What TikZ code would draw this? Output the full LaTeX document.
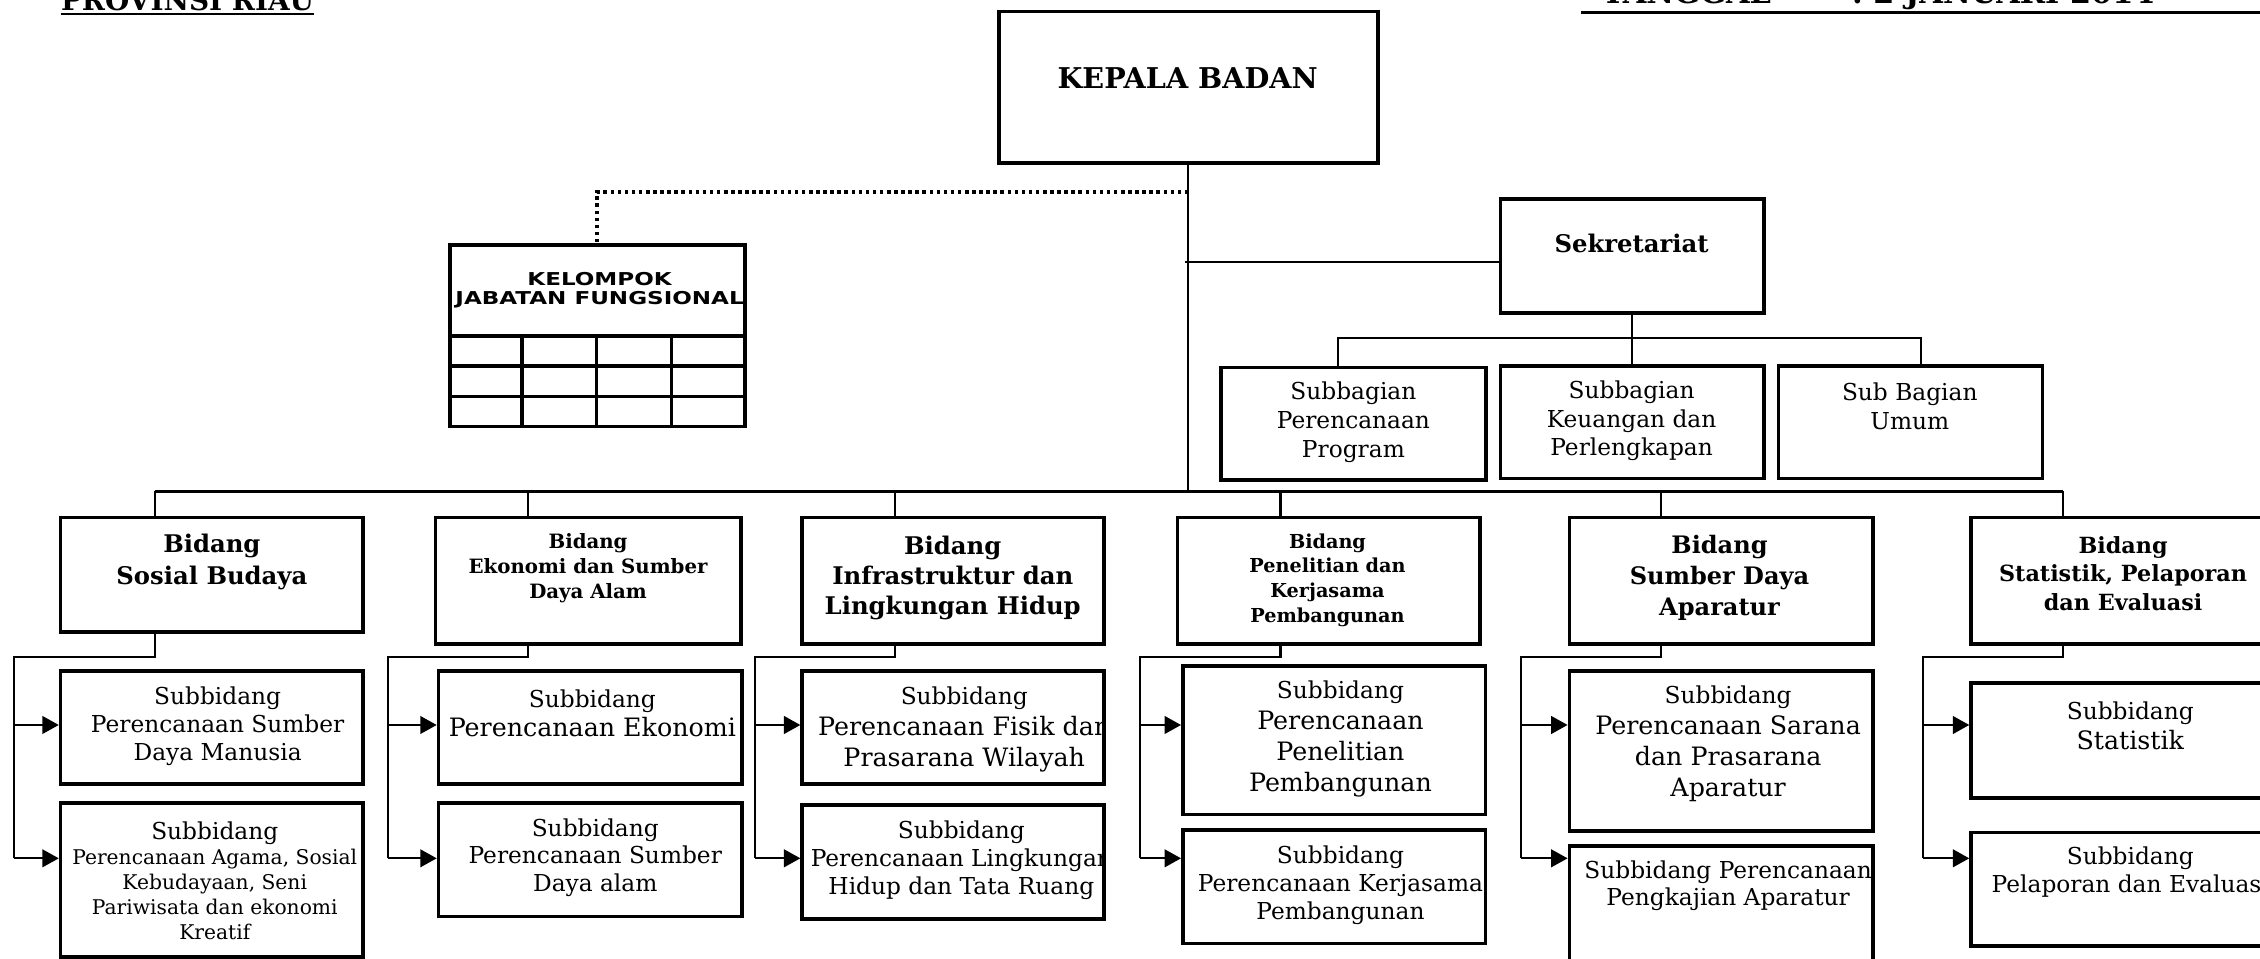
\documentclass[tikz,border=0pt]{standalone}
\usepackage{fontspec}
\setmainfont{DejaVu Serif}
\newfontfamily\jffont{DejaVu Sans}[FakeStretch=1.3]
\usetikzlibrary{arrows.meta}

\tikzset{
	box/.style = {draw, line width=1.4pt, inner sep=0pt},
	line/.style = {line width=0.8pt},
	dots/.style = {line width=1.6pt, dash pattern=on 1.4pt off 1.4pt},
	arr/.style = {line width=0.8pt, -{Triangle[length=6.5pt, width=7pt]}},
	txt/.style = {align=center, inner sep=0pt},
	subtxt/.style = {txt, font=\fontsize{9.2}{11}\selectfont},
	bigtxt/.style = {txt, font=\fontsize{10}{12.2}\selectfont},
	bidtxt/.style 2 args = {txt, font=\bfseries\fontsize{#1}{#2}\selectfont}
}

\begin{document}
\begin{tikzpicture}[x=0.02cm, y=-0.02cm]
	\useasboundingbox (0,0) rectangle (1568,665);
	\clip (0,0) rectangle (1568,665);

	% kop
	\node[anchor=base west, inner sep=0pt, font=\bfseries\fontsize{11}{13}\selectfont] (prov) at (42,7.4) {PROVINSI RIAU};
	\draw[line width=0.9pt] ([yshift=-1.3pt]prov.base west) -- ([yshift=-1.3pt]prov.base east);
	\node[anchor=base west, inner sep=0pt, font=\bfseries\fontsize{12}{14}\selectfont] (tgl) at (1111,2.3) {TANGGAL\hspace{32pt}:\hspace{4pt}2 JANUARI 2014};
	\draw[line width=1.2pt] ([xshift=-8pt, yshift=-3.6pt]tgl.base west) -- ++(500,0);

	% pimpinan dan sekretariat
	\node[box, minimum width=5.26cm, minimum height=2.1cm] (kepala) at (824.5,60.5) {};
	\node[txt, font=\bfseries\fontsize{11.3}{13}\selectfont] (kepalat) at (824,54) {KEPALA BADAN};

	\node[box, minimum width=4.1cm, minimum height=2.52cm] (jf) at (414.5,233) {};
	\node[txt, font=\jffont\bfseries\fontsize{7}{7.4}\selectfont] (jft) at (416,201.5) {KELOMPOK\\JABATAN FUNGSIONAL};
	\foreach \y in {233,254,275}
		\draw[line width=1.4pt] (jf.west |- 0,\y) -- (jf.east |- 0,\y);
	\foreach \x in {362,414,466}
		\draw[line width=1.4pt] (\x,233) -- (jf.south -| \x,0);

	\node[box, minimum width=3.66cm, minimum height=1.58cm] (sekr) at (1132.5,177.5) {};
	\node[txt, font=\bfseries\fontsize{9.6}{12}\selectfont] (sekrt) at (1132,169) {Sekretariat};

	\node[box, minimum width=3.68cm, minimum height=1.56cm] (sbg1) at (939,294) {};
	\node[box, minimum width=3.66cm, minimum height=1.56cm] (sbg2) at (1132.5,293) {};
	\node[box, minimum width=3.66cm, minimum height=1.56cm] (sbg3) at (1325.5,293) {};
	\node[subtxt, font=\fontsize{9.2}{11.4}\selectfont] (sbg1t) at (939,293) {Subbagian\\Perencanaan\\Program};
	\node[subtxt, font=\fontsize{9.2}{11.4}\selectfont] (sbg2t) at (1132,292) {Subbagian\\Keuangan dan\\Perlengkapan};
	\node[subtxt, font=\fontsize{9.2}{11.4}\selectfont] (sbg3t) at (1325,282) {Sub Bagian\\Umum};

	% bidang
	\node[box, minimum width=4.2cm, minimum height=1.59cm] (bid1) at (147,398.75) {};
	\node[box, minimum width=4.24cm, minimum height=1.76cm] (bid2) at (408,403) {};
	\node[box, minimum width=4.19cm, minimum height=1.76cm] (bid3) at (661.25,403) {};
	\node[box, minimum width=4.2cm, minimum height=1.76cm] (bid4) at (922,403) {};
	\node[box, minimum width=4.21cm, minimum height=1.76cm] (bid5) at (1194.25,403) {};
	\node[box, minimum width=4.21cm, minimum height=1.76cm] (bid6) at (1472.75,403) {};
	\node[bidtxt={9.6}{12.5}] (bid1t) at (147,390) {Bidang\\Sosial Budaya};
	\node[bidtxt={7.8}{9.8}] (bid2t) at (408,394) {Bidang\\Ekonomi dan Sumber\\Daya Alam};
	\node[bidtxt={9.6}{12}] (bid3t) at (661,401) {Bidang\\Infrastruktur dan\\Lingkungan Hidup};
	\node[bidtxt={7.6}{9.8}] (bid4t) at (921,402.5) {Bidang\\Penelitian dan\\Kerjasama\\Pembangunan};
	\node[bidtxt={9.5}{12.2}] (bid5t) at (1193,401) {Bidang\\Sumber Daya\\Aparatur};
	\node[bidtxt={8.8}{11.2}] (bid6t) at (1473,398) {Bidang\\Statistik, Pelaporan\\dan Evaluasi};

	% subbidang
	\node[box, minimum width=4.2cm, minimum height=1.568cm] (sa1) at (147,504.8) {};
	\node[box, minimum width=4.2cm, minimum height=2.14cm] (sb1) at (147,610.5) {};
	\node[box, minimum width=4.21cm, minimum height=1.568cm] (sa2) at (409.45,504.8) {};
	\node[box, minimum width=4.21cm, minimum height=1.58cm] (sb2) at (409.45,596.5) {};
	\node[box, minimum width=4.19cm, minimum height=1.568cm] (sa3) at (661.25,504.8) {};
	\node[box, minimum width=4.19cm, minimum height=1.584cm] (sb3) at (661.25,598.1) {};
	\node[box, minimum width=4.2cm, minimum height=2.06cm] (sa4) at (925.6,513.5) {};
	\node[box, minimum width=4.2cm, minimum height=1.57cm] (sb4) at (925.6,615.25) {};
	\node[box, minimum width=4.216cm, minimum height=2.22cm] (sa5) at (1194.2,521.1) {};
	\node[box, minimum width=4.216cm, minimum height=1.864cm] (sb5) at (1194.2,633.4) {};
	\node[box, minimum width=4.21cm, minimum height=1.59cm] (sa6) at (1472.75,513.75) {};
	\node[box, minimum width=4.21cm, minimum height=1.574cm] (sb6) at (1472.75,617) {};

	\node[subtxt] (sa1t) at (151,504) {Subbidang\\Perencanaan Sumber\\Daya Manusia};
	\node[txt, font=\fontsize{8}{9.9}\selectfont] (sb1t) at (149,611) {{\fontsize{9.2}{11}\selectfont Subbidang}\\Perencanaan Agama, Sosial\\Kebudayaan, Seni\\Pariwisata dan ekonomi\\Kreatif};
	\begin{scope}
		\clip (sa2.north west) rectangle (sa2.south east);
		\node[bigtxt, font=\fontsize{10}{11.4}\selectfont] (sa2t) at (411,495) {{\fontsize{9.2}{11}\selectfont Subbidang}\\Perencanaan Ekonomi};
	\end{scope}
	\node[subtxt] (sb2t) at (413,595) {Subbidang\\Perencanaan Sumber\\Daya alam};
	\begin{scope}
		\clip (sa3.north west) rectangle (sa3.south east);
		\node[bigtxt] (sa3t) at (669,506) {{\fontsize{9.2}{11}\selectfont Subbidang}\\Perencanaan Fisik dan\\Prasarana Wilayah};
	\end{scope}
	\begin{scope}
		\clip (sb3.north west) rectangle (sb3.south east);
		\node[subtxt] (sb3t) at (667,597) {Subbidang\\Perencanaan Lingkungan\\Hidup dan Tata Ruang};
	\end{scope}
	\node[bigtxt] (sa4t) at (930,512.5) {{\fontsize{9.2}{11}\selectfont Subbidang}\\Perencanaan\\Penelitian\\Pembangunan};
	\begin{scope}
		\clip (sb4.north west) rectangle (sb4.south east);
		\node[subtxt] (sb4t) at (930,614) {Subbidang\\Perencanaan Kerjasama\\Pembangunan};
	\end{scope}
	\node[bigtxt] (sa5t) at (1199,516) {{\fontsize{9.2}{11}\selectfont Subbidang}\\Perencanaan Sarana\\dan Prasarana\\Aparatur};
	\begin{scope}
		\clip (sb5.north west) rectangle (sb5.south east);
		\node[subtxt] (sb5t) at (1199,614.5) {Subbidang Perencanaan\\Pengkajian Aparatur};
	\end{scope}
	\node[bigtxt, font=\fontsize{10}{11.8}\selectfont] (sa6t) at (1478,503.5) {{\fontsize{9.2}{11}\selectfont Subbidang}\\Statistik};
	\node[subtxt] (sb6t) at (1478,605) {Subbidang\\Pelaporan dan Evaluasi};

	% garis komando
	\draw[line] (kepala.south) -- (kepala.south |- 0,341);
	\draw[dots] (kepala.south |- 0,133) -| (jf.north);
	\coordinate (sj) at (822,181.6);
	\draw[line] (sj) -- (sj -| sekr.west);
	\coordinate (h1) at (928,234.5);
	\coordinate (h3) at (1333,234.5);
	\draw[line] (sekr.south) -- (sbg2.north);
	\draw[line] (h1 |- sbg1.north) -- (h1) -- (h3) -- (h3 |- sbg3.north);

	\foreach \n/\dx/\lx in {1/107.6/10, 2/366.5/269, 3/621/523.5, 4/888.4/791, 5/1152.4/1055, 6/1431.2/1334} {
		\coordinate (d\n) at (\dx,341);
		\coordinate (l\n) at (\lx,455.6);
		\draw[line] (d\n) -- (d\n |- bid\n.north);
		\draw[line] (d\n |- bid\n.south) |- (l\n) -- (\lx,595.5);
		\draw[arr] (\lx,503) -- (sa\n.west |- \lx,503);
		\draw[arr] (\lx,595.5) -- (sb\n.west |- \lx,595.5);
	}
	\draw[line width=0.9pt] (d1) -- (d6);
\end{tikzpicture}
\end{document}
